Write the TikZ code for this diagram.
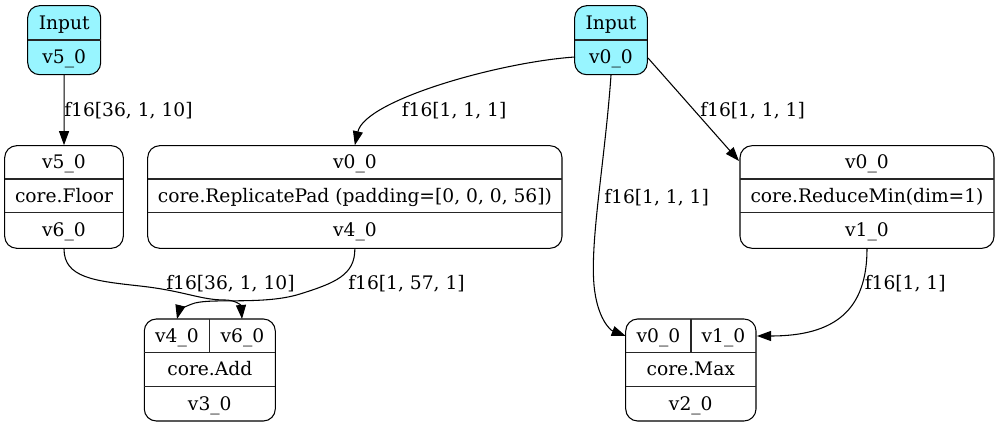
\documentclass[tikz,border=0pt]{standalone}
\usepackage{fontspec}
\setmainfont{DejaVu Serif}
\usetikzlibrary{arrows.meta,fit}
\definecolor{inputfill}{HTML}{98F5FF}
\begin{document}
\begin{tikzpicture}[x=0.75pt,y=-0.75pt,
  recbox/.style={draw, rounded corners=9pt, inner sep=0pt, line width=0.8pt},
  inbox/.style={recbox, fill=inputfill},
  txt/.style={font=\fontsize{14}{16}\selectfont, inner sep=0pt, anchor=base},
  lbl/.style={txt, anchor=base west},
  divline/.style={line width=0.8pt, draw=black!85},
  conn/.style={draw, line width=0.8pt, -{Triangle[length=10.5pt,width=7.5pt]}}]
\useasboundingbox (0,0) rectangle (999,427);

% Input v5_0
\node[inbox, fit={(27.7,5.7)(100.7,74.7)}] (in5) {};
\draw[divline] (27.7,40) -- (100.7,40);
\node[txt] (in5a) at (64.2,30) {Input};
\node[txt] (in5b) at (64.2,64) {v5\_0};

% Input v0_0
\node[inbox, fit={(574.7,5.7)(647.3,74.7)}] (in0) {};
\draw[divline] (574.7,40) -- (647.3,40);
\node[txt] (in0a) at (611,30) {Input};
\node[txt] (in0b) at (611,64) {v0\_0};

% Floor
\node[recbox, fit={(4.7,145.7)(123.3,248.3)}] (floor) {};
\draw[divline] (4.7,179) -- (123.3,179);
\draw[divline] (4.7,212.7) -- (123.3,212.7);
\node[txt] (floora) at (64,169) {v5\_0};
\node[txt] (floorb) at (64,202.5) {core.Floor};
\node[txt] (floorc) at (64,237) {v6\_0};

% ReplicatePad
\node[recbox, fit={(147.7,145.7)(562,248.3)}] (rp) {};
\draw[divline] (147.7,179) -- (562,179);
\draw[divline] (147.7,212.7) -- (562,212.7);
\node[txt] (rpa) at (354.9,169) {v0\_0};
\node[txt] (rpb) at (354.9,202.5) {core.ReplicatePad (padding=[0, 0, 0, 56])};
\node[txt] (rpc) at (354.9,237) {v4\_0};

% ReduceMin
\node[recbox, fit={(740,145.7)(994,248.3)}] (rm) {};
\draw[divline] (740,179) -- (994,179);
\draw[divline] (740,212.7) -- (994,212.7);
\node[txt] (rma) at (867,169) {v0\_0};
\node[txt] (rmb) at (867,202.5) {core.ReduceMin(dim=1)};
\node[txt] (rmc) at (867,237) {v1\_0};

% Add
\node[recbox, fit={(144.3,319)(275.3,421)}] (add) {};
\draw[divline] (209.7,319) -- (209.7,352.3);
\draw[divline] (144.3,352.3) -- (275.3,352.3);
\draw[divline] (144.3,386.7) -- (275.3,386.7);
\node[txt] (adda) at (177,342.5) {v4\_0};
\node[txt] (addb) at (242.5,342.5) {v6\_0};
\node[txt] (addc) at (209.8,376) {core.Add};
\node[txt] (addd) at (209.8,410.5) {v3\_0};

% Max
\node[recbox, fit={(625.7,319)(756,421)}] (mx) {};
\draw[divline] (691,319) -- (691,352.3);
\draw[divline] (625.7,352.3) -- (756,352.3);
\draw[divline] (625.7,386.7) -- (756,386.7);
\node[txt] (mxa) at (658.4,342.5) {v0\_0};
\node[txt] (mxb) at (723.5,342.5) {v1\_0};
\node[txt] (mxc) at (690.8,376) {core.Max};
\node[txt] (mxd) at (690.8,410.5) {v2\_0};

% ports
\coordinate (in0w) at (575,57);
\coordinate (in0e) at (648,58);
\coordinate (rmnw) at (739,161);
\coordinate (addp4) at (177,319);
\coordinate (addp6) at (242,319);
\coordinate (mxw) at (625.7,336);
\coordinate (mxe) at (757,336);

% edges
\draw[conn] (in5.south) -- (floor.north);
\draw[conn] (in0w) .. controls (500,62) and (365,100) .. (rp.north);
\draw[conn] (in0.south) .. controls (605,160) and (590,240) .. (594,285)
  .. controls (597,318) and (610,330) .. (mxw);
\draw[conn] (in0e) -- (rmnw);
\draw[conn] (rm.south) .. controls (867,310) and (835,336) .. (mxe);
\draw[conn] (floor.south) .. controls (64,278) and (95,281) .. (140,286)
  .. controls (185,291) and (200,300) .. (225,300)
  .. controls (235,300) and (241,305) .. (addp6);
\draw[conn] (rp.south) .. controls (355,275) and (335,283) .. (300,294)
  .. controls (265,305) and (215,298) .. (195,303)
  .. controls (185,306) and (179,311) .. (addp4);

% labels
\node[lbl] (l1) at (64,117) {f16[36, 1, 10]};
\node[lbl] (l2) at (401.5,117) {f16[1, 1, 1]};
\node[lbl] (l3) at (604,203.3) {f16[1, 1, 1]};
\node[lbl] (l4) at (700,117) {f16[1, 1, 1]};
\node[lbl] (l5) at (864.5,290) {f16[1, 1]};
\node[lbl] (l6) at (166,289.5) {f16[36, 1, 10]};
\node[lbl] (l7) at (348,290) {f16[1, 57, 1]};
\end{tikzpicture}
\end{document}
